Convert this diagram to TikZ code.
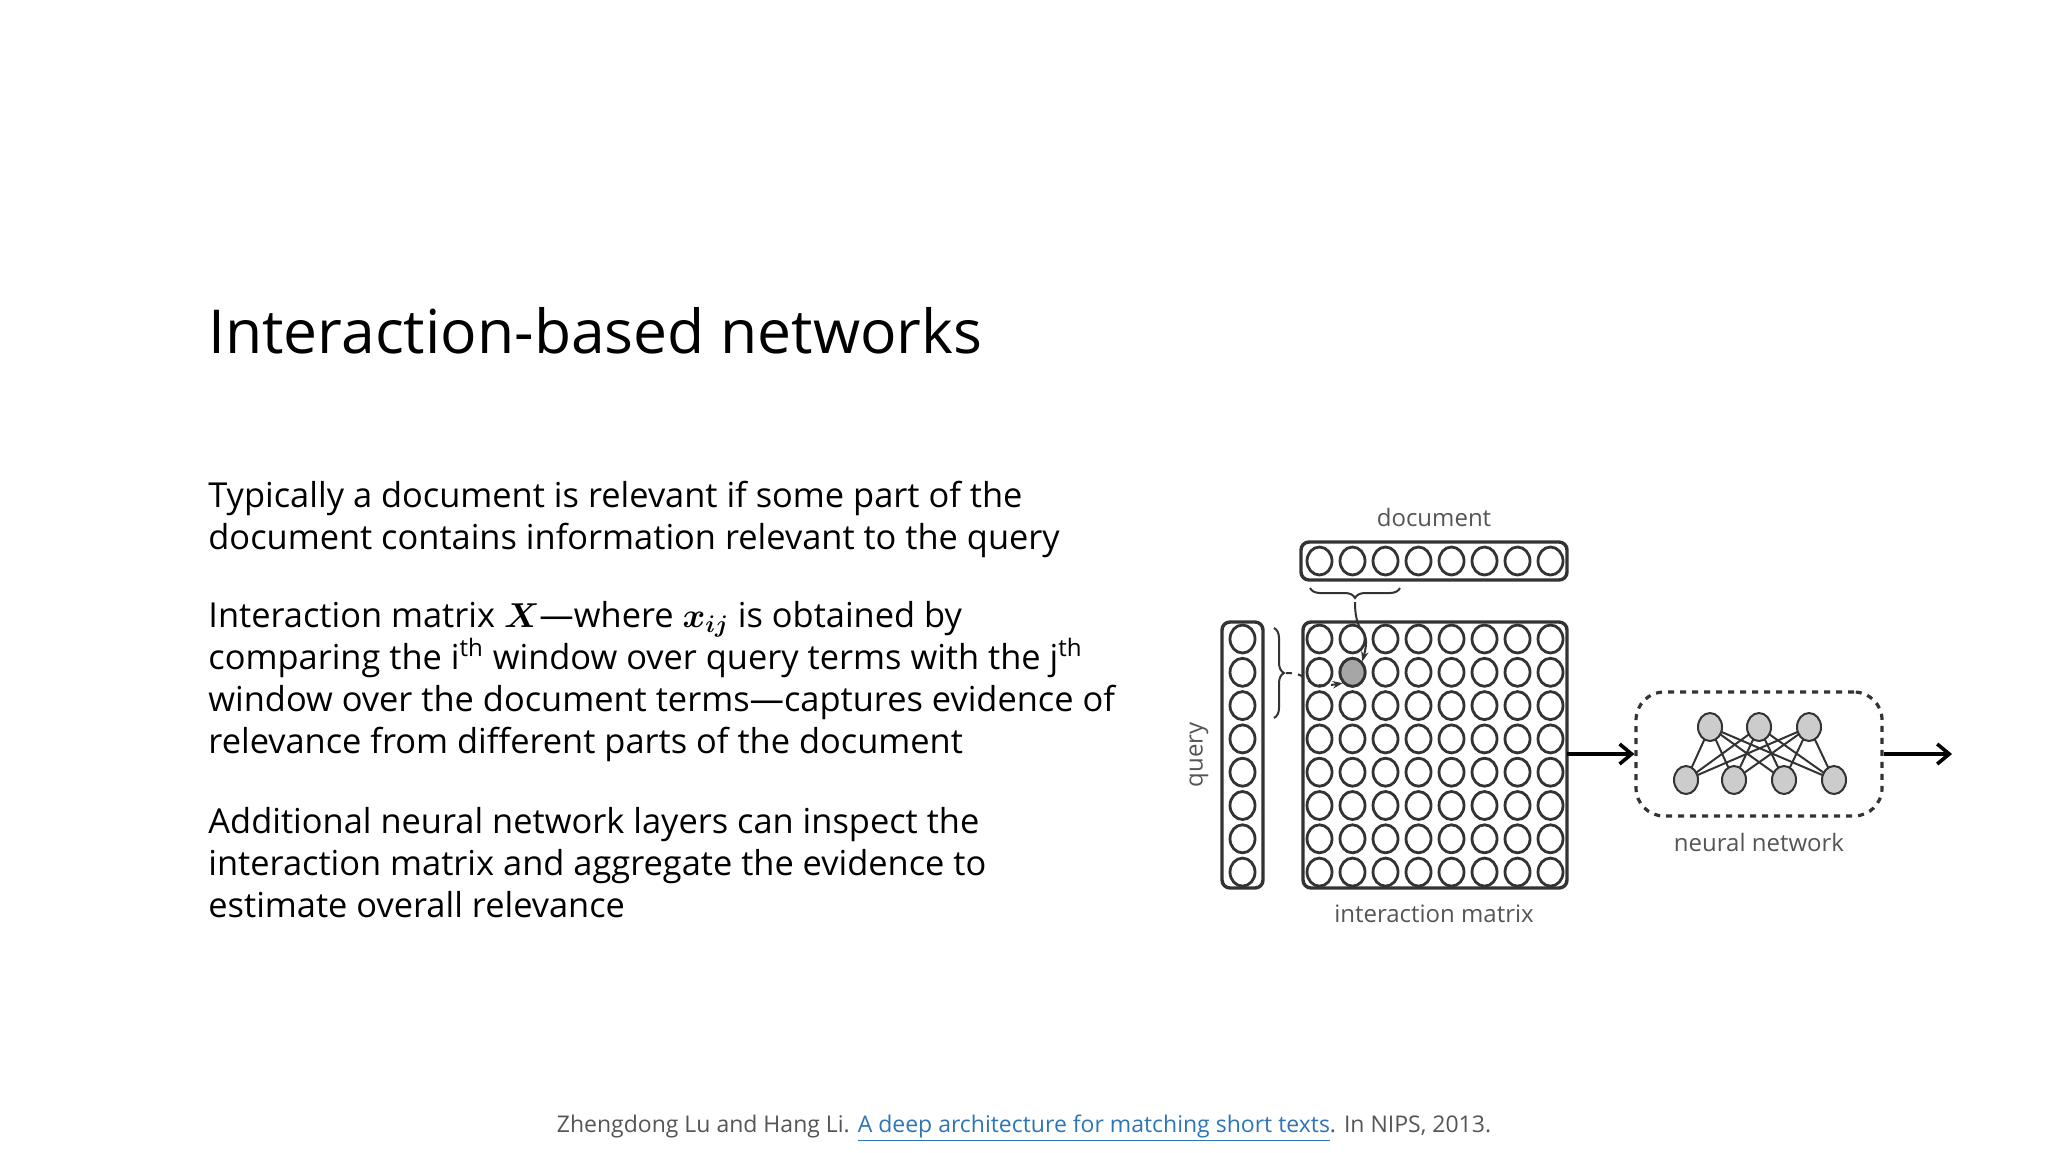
\documentclass[tikz,border=0pt]{standalone}
\usepackage{amsmath}
\usepackage{bm}
\usepackage{fontspec}
\setmainfont{Open Sans}
\usetikzlibrary{decorations.pathreplacing,arrows.meta,shapes.geometric}
\definecolor{ln}{HTML}{333333}
\definecolor{lbl}{HTML}{555555}
\definecolor{lnk}{HTML}{2E75B6}
\begin{document}
\begin{tikzpicture}[x=0.5pt,y=-0.5pt,
  cell/.style={draw=ln,line width=1.4pt,ellipse,minimum width=12.5pt,minimum height=14pt,inner sep=0pt},
  grp/.style={draw=ln,line width=1.7pt,rounded corners=4pt},
  body/.style={anchor=base west,inner sep=0pt,font=\fontsize{17.2pt}{20pt}\selectfont,text=black},
  dlab/.style={text=lbl,font=\fontsize{12pt}{14pt}\selectfont},
  nn/.style={draw=ln,fill=gray!40,line width=1pt,ellipse,minimum width=12pt,minimum height=14pt,inner sep=0pt},
  arr/.style={-{Straight Barb[length=6pt,width=10pt]},line width=1.8pt,draw=black}]
\useasboundingbox (0,0) rectangle (2048,1152);
% title
\node[anchor=base west,inner sep=0pt,font=\fontsize{30.3pt}{36pt}\selectfont] (title) at (208,353) {Interaction-based networks};
% body
\node[body] (l1) at (208,507) {Typically a document is relevant if some part of the};
\node[body] (l2) at (208,549) {document contains information relevant to the query};
\node[body] (l3) at (208,627) {Interaction matrix $\bm{X}$---where $\bm{x_{ij}}$ is obtained by};
\node[body] (l4) at (208,669) {comparing the i\textsuperscript{th} window over query terms with the j\textsuperscript{th}};
\node[body] (l5) at (208,711) {window over the document terms---captures evidence of};
\node[body] (l6) at (208,753) {relevance from different parts of the document};
\node[body] (l7) at (208,833) {Additional neural network layers can inspect the};
\node[body] (l8) at (208,875) {interaction matrix and aggregate the evidence to};
\node[body] (l9) at (208,917) {estimate overall relevance};
% footer
\node[anchor=base,inner sep=0pt,font=\fontsize{11.5pt}{14pt}\selectfont,text=lbl] (foot) at (1024,1132)
 {Zhengdong Lu and Hang Li. \textcolor{lnk}{\underline{A deep architecture for matching short texts}}. In NIPS, 2013.};
% diagram boxes
\draw[grp] (1301,542) rectangle (1567,580);
\draw[grp] (1222,622) rectangle (1263,888);
\draw[grp] (1303,622) rectangle (1567,888);
\foreach \c in {0,...,7}{
  \node[cell] (d\c) at ({1319.5+33*\c},561) {};
  \node[cell] (q\c) at (1242.5,{639+33.3*\c}) {};
  \foreach \r in {0,...,7}{
    \node[cell] (m\r\c) at ({1319.5+33*\c},{639+33.3*\r}) {};
  }
}
\node[cell,fill=gray!70] (g) at (m11) {};
\node[dlab] (doclab) at (1434,517) {document};
\node[dlab,rotate=90] (qlab) at (1199,755) {query};
\node[dlab] (imlab) at (1434,914) {interaction matrix};
% braces
\draw[ln,line width=1pt,decorate,decoration={brace,mirror,amplitude=5pt}] (1310,588) -- (1400,588);
\draw[ln,line width=1pt,decorate,decoration={brace,amplitude=5pt}] (1274,628) -- (1274,718);
\coordinate (bq) at (1286,673);
\coordinate (bd) at (1355,602);
\draw[ln,line width=1pt,-{Stealth[length=5pt]}] (bd) .. controls (1355,640) and (1372,625) .. (g.north east);
\draw[ln,line width=1pt,dashed,-{Stealth[length=5pt]}] (bq) .. controls (1315,673) and (1300,690) .. (g.south west);
% neural network
\node[draw=ln,dashed,line width=1.6pt,rounded corners=14pt,minimum width=123pt,minimum height=62pt] (nnbox) at (1759,754) {};
\foreach \i/\x in {0/1710,1/1759,2/1809} \coordinate (t\i) at (\x,727);
\foreach \i/\x in {0/1686,1/1734,2/1784,3/1834} \coordinate (b\i) at (\x,780);
\foreach \i in {0,1,2} \foreach \j in {0,...,3} \draw[ln,line width=1pt] (t\i) -- (b\j);
\foreach \i in {0,1,2} \node[nn] (tn\i) at (t\i) {};
\foreach \i in {0,...,3} \node[nn] (bn\i) at (b\i) {};
\node[dlab] (nnlab) at (1759,842) {neural network};
\coordinate (out) at (1952,754);
\draw[arr] (1567,754) -- (nnbox.west);
\draw[arr] (nnbox.east) -- (out);
\end{tikzpicture}
\end{document}
